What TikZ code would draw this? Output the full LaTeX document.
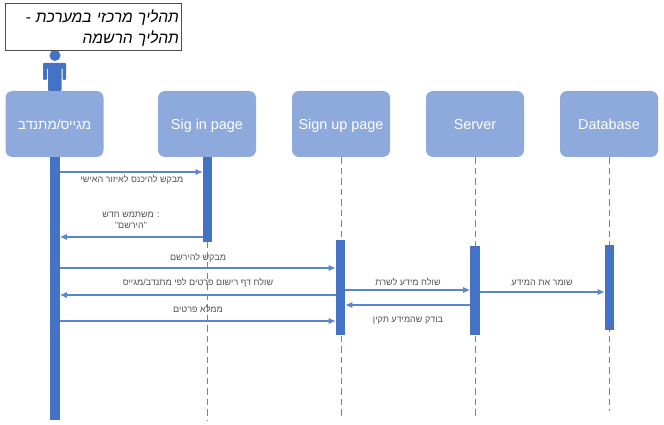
\documentclass[tikz,border=0pt]{standalone}
\usepackage{fontspec}
\setmainfont[Script=Hebrew]{Liberation Sans}
\TeXXeTstate=1
\newcommand{\heb}[1]{{\beginR #1\endR}}
\definecolor{boxblue}{HTML}{8EA9DB}
\definecolor{barblue}{HTML}{4472C4}
\definecolor{msgblue}{HTML}{5B85CC}
\definecolor{msgtext}{HTML}{505050}
\usetikzlibrary{arrows.meta}
\tikzset{
  headbox/.style={draw=none,fill=boxblue,rounded corners=7pt,minimum width=98pt,minimum height=66pt,
    text=white,font=\fontsize{14.4}{16}\selectfont,inner sep=0pt,text height=12pt,text depth=1pt},
  titlebox/.style={draw=black!70,fill=white,minimum width=176pt,minimum height=47pt,align=right,
    text width=172pt,inner sep=0pt,font=\fontsize{15.6}{21}\selectfont\itshape},
  barnode/.style={fill=barblue,draw=none,minimum width=9.5pt,inner sep=0pt,anchor=north},
  lifeline/.style={msgblue,dash pattern=on 6.5pt off 4pt,line width=1pt},
  msg/.style={msgblue,line width=1.1pt,-{Latex[length=7pt,width=6.5pt]}},
  msglabel/.style={text=msgtext,font=\fontsize{9}{11}\selectfont,inner sep=0pt,align=center}
}
\begin{document}
\begin{tikzpicture}[x=1pt,y=-1pt]
\useasboundingbox (0,0) rectangle (664,425);
% header boxes
\node[headbox,font=\fontsize{13.5}{16}\selectfont] (user) at (54.5,124) {\heb{מגייס/מתנדב}};
\foreach \name/\x/\txt in {signin/207/Sig in page,signup/341/Sign up page,server/475/Server,database/609/Database}
  \node[headbox] (\name) at (\x,124) {\txt};
% actor
\fill[barblue] (55,55.5) circle (5.5);
\fill[barblue,rounded corners=1pt] (43,80) -- (43,63) -- (66,63) -- (66,80) -- (62.5,80) -- (62.5,68) -- (61.5,68) -- (61.5,91) -- (48,91) -- (48,68) -- (47,68) -- (47,80) -- cycle;
\node[titlebox] (title) at (93,26.5) {\rule{0pt}{15pt}\heb{תהליך מרכזי במערכת -}\\\heb{תהליך הרשמה}};
% lifelines
\foreach \name/\y in {signin/420,signup/416,server/416,database/411}
  \draw[lifeline] (\name.south) -- (\name.south |- 0,\y);
% activation bars
\node[barnode,minimum height=263pt] (userbar) at (55,157) {};
\node[barnode,minimum height=85pt] (signinbar) at (207.5,157) {};
\node[barnode,minimum height=95pt] (signupbar) at (340.5,240) {};
\node[barnode,minimum height=89pt] (serverbar) at (475,246) {};
\node[barnode,minimum height=85pt] (databasebar) at (609.5,245) {};
% messages
\draw[msg] (userbar.east |- 0,172) -- (signinbar.west |- 0,172);
\draw[msg] (signinbar.west |- 0,237) -- (userbar.east |- 0,237);
\draw[msg] (userbar.east |- 0,268) -- (signupbar.west |- 0,268);
\draw[msg] (signupbar.west |- 0,295) -- (userbar.east |- 0,295);
\draw[msg] (userbar.east |- 0,321) -- (signupbar.west |- 0,321);
\draw[msg] (signupbar.east |- 0,290) -- (serverbar.west |- 0,290);
\draw[msg] (serverbar.west |- 0,305) -- (signupbar.east |- 0,305);
\draw[msg] (serverbar.east |- 0,292) -- (databasebar.west |- 0,292);
% message labels
\node[msglabel] (asklogin) at (132,180) {\heb{מבקש להיכנס לאיזור האישי}};
\node[msglabel] (newuser) at (131,220.5) {\heb{: משתמש חדש}\\\heb{"הירשם"}};
\node[msglabel] (askreg) at (198,258) {\heb{מבקש להירשם}};
\node[msglabel] (sendform) at (198,283) {\heb{שולח דף רישום פרטים לפי מתנדב/מגייס}};
\node[msglabel] (fill) at (198,309) {\heb{ממלא פרטים}};
\node[msglabel] (sendinfo) at (408,282) {\heb{שולח מידע לשרת}};
\node[msglabel] (check) at (408,321) {\heb{בודק שהמידע תקין}};
\node[msglabel] (store) at (542,283) {\heb{שומר את המידע}};
\end{tikzpicture}
\end{document}
